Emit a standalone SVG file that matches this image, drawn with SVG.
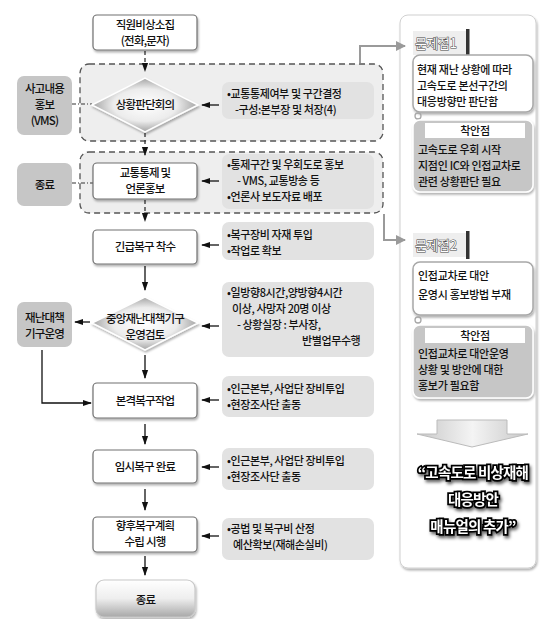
<svg xmlns="http://www.w3.org/2000/svg" width="540" height="619" viewBox="0 0 540 619">
<style>
.t{font-family:"Noto Sans CJK KR","Noto Sans",sans-serif;fill:#111;font-weight:500}
.bt{font-size:11.5px;letter-spacing:-0.8px;text-anchor:middle}
.it{font-size:11px;letter-spacing:-0.4px}
.rt{font-size:11px;letter-spacing:-0.3px}
.box{fill:#fff;stroke:#707070;stroke-width:1.2}
.gbox{fill:#c6c6c6}
.info{fill:#e2e2e2}
.region{fill:#eeeeee;stroke:#555;stroke-width:1.3;stroke-dasharray:6 4}
.conn{stroke:#111;stroke-width:1.3;fill:none}
.dconn{stroke:#333;stroke-width:1.3;fill:none;stroke-dasharray:4 3}
.gconn{stroke:#9a9a9a;stroke-width:2;fill:none}
.lbl{font-size:13px;fill:#fff;stroke:#444;stroke-width:1px;paint-order:stroke;font-family:"Noto Sans CJK KR","Noto Sans",sans-serif;letter-spacing:-0.4px}
.big{font-family:"Noto Sans CJK KR","Noto Sans",sans-serif;font-size:14.5px;font-weight:bold;fill:#fff;stroke:#000;stroke-width:3.5px;paint-order:stroke;text-anchor:middle;letter-spacing:-0.8px}
</style>
<defs>
<marker id="ah" viewBox="0 0 10 10" refX="9" refY="5" markerWidth="7" markerHeight="7" orient="auto"><path d="M0,1.5 L10,5 L0,8.5 Z" fill="#111"/></marker>
<marker id="gah" viewBox="0 0 10 10" refX="9" refY="5" markerWidth="5" markerHeight="5" orient="auto"><path d="M0,0 L10,5 L0,10 Z" fill="#9a9a9a"/></marker>
<filter id="sh" x="-10%" y="-10%" width="130%" height="140%"><feDropShadow dx="1" dy="2" stdDeviation="1.2" flood-color="#000" flood-opacity="0.3"/></filter>
<filter id="tsh" x="-10%" y="-30%" width="130%" height="170%"><feDropShadow dx="1.5" dy="2.5" stdDeviation="1.5" flood-color="#000" flood-opacity="0.6"/></filter>
<radialGradient id="dg" cx="0.5" cy="0.5" r="0.6"><stop offset="0" stop-color="#ffffff"/><stop offset="0.5" stop-color="#ececec"/><stop offset="1" stop-color="#7f7f7f"/></radialGradient>
<linearGradient id="tg" x1="0" y1="0" x2="0" y2="1"><stop offset="0" stop-color="#ffffff"/><stop offset="0.5" stop-color="#eeeeee"/><stop offset="1" stop-color="#a8a8a8"/></linearGradient>
<linearGradient id="ag" x1="0" y1="0" x2="1" y2="0"><stop offset="0" stop-color="#c8c8c8"/><stop offset="0.5" stop-color="#f4f4f4"/><stop offset="1" stop-color="#c8c8c8"/></linearGradient>
</defs>

<g id="panel">
<rect x="400" y="15" width="136" height="553" rx="8" fill="#fff" stroke="#d0d0d0" filter="url(#sh)"/>
</g>

<g id="region1"><rect class="region" x="80" y="64" width="303" height="77" rx="9"/></g>
<g id="region2"><rect class="region" x="80" y="152" width="303" height="61" rx="9"/></g>

<g id="connectors">
<path class="dconn" d="M145,51 V71" marker-end="url(#ah)"/>
<path class="dconn" d="M145,133 V155" marker-end="url(#ah)"/>
<path class="dconn" d="M145,200 V221" marker-end="url(#ah)"/>
<path class="conn" d="M145,266 V290" marker-end="url(#ah)"/>
<path class="conn" d="M145,355 V378" marker-end="url(#ah)"/>
<path class="conn" d="M145,424 V444" marker-end="url(#ah)"/>
<path class="conn" d="M145,489 V510" marker-end="url(#ah)"/>
<path class="conn" d="M145,556 V575" marker-end="url(#ah)"/>
<path class="conn" d="M219,105 H202" marker-end="url(#ah)"/>
<path class="conn" d="M219,181 H202" marker-end="url(#ah)"/>
<path class="conn" d="M219,245 H202" marker-end="url(#ah)"/>
<path class="conn" d="M219,326 H202" marker-end="url(#ah)"/>
<path class="conn" d="M219,400 H202" marker-end="url(#ah)"/>
<path class="conn" d="M219,467 H202" marker-end="url(#ah)"/>
<path class="conn" d="M219,536 H202" marker-end="url(#ah)"/>
<path class="conn" d="M90,322 H75" marker-end="url(#ah)"/>
<path class="conn" d="M42,350 V403 H91" marker-end="url(#ah)"/>
<path d="M72,104 H92" stroke="#333" stroke-width="1.2" stroke-dasharray="4 2 1 2"/>
<path d="M72,183 H93" stroke="#333" stroke-width="1.2" stroke-dasharray="4 2 1 2"/>
<path class="gconn" d="M360,63 V46 H405" marker-end="url(#gah)"/>
<path class="gconn" d="M384,214 V240 H405" marker-end="url(#gah)"/>
</g>

<g id="n-start"><rect class="box" x="93" y="15" width="104" height="35" rx="4" filter="url(#sh)"/>
<text class="t bt" x="145" y="29">직원비상소집</text><text class="t bt" x="145" y="45">(전화,문자)</text></g>

<g id="n-judge"><polygon points="92,105 145,78 198,105 145,132" fill="url(#dg)" stroke="#fff" stroke-width="1.5" filter="url(#sh)"/>
<text class="t bt" x="145" y="109">상황판단회의</text></g>

<g id="n-vms"><rect class="gbox" x="17" y="76" width="55" height="59" rx="7"/>
<text class="t bt" x="44.5" y="93">사고내용</text><text class="t bt" x="44.5" y="109">홍보</text><text class="t bt" x="44.5" y="125">(VMS)</text></g>

<g id="i1"><rect class="info" x="222" y="82" width="152" height="37" rx="7"/>
<text class="t it" x="227" y="98">•교통통제여부 및 구간결정</text><text class="t it" x="235" y="114">-구성:본부장 및 처장(4)</text></g>

<g id="n-ctrl"><rect class="box" x="93" y="163" width="104" height="36" rx="4" filter="url(#sh)"/>
<text class="t bt" x="145" y="177">교통통제 및</text><text class="t bt" x="145" y="193">언론홍보</text></g>

<g id="n-end1"><rect class="gbox" x="17" y="163" width="55" height="43" rx="7"/>
<text class="t bt" x="44.5" y="189">종료</text></g>

<g id="i2"><rect class="info" x="222" y="154" width="152" height="55" rx="7"/>
<text class="t it" x="227" y="169">•통제구간 및 우회도로 홍보</text><text class="t it" x="237" y="185">- VMS, 교통방송 등</text><text class="t it" x="227" y="201">•언론사 보도자료 배포</text></g>

<g id="n-urgent"><rect class="box" x="93" y="230" width="104" height="34" rx="4" filter="url(#sh)"/>
<text class="t bt" x="145" y="251">긴급복구 착수</text></g>

<g id="i3"><rect class="info" x="222" y="222" width="152" height="38" rx="7"/>
<text class="t it" x="227" y="239">•복구장비 자재 투입</text><text class="t it" x="227" y="255">•작업로 확보</text></g>

<g id="n-central"><polygon points="92,323 145,297 198,323 145,350" fill="url(#dg)" stroke="#fff" stroke-width="1.5" filter="url(#sh)"/>
<text class="t bt" x="145" y="323">중앙재난대책기구</text><text class="t bt" x="145" y="339">운영검토</text></g>

<g id="n-org"><rect class="gbox" x="17" y="302" width="55" height="45" rx="7"/>
<text class="t bt" x="44.5" y="322">재난대책</text><text class="t bt" x="44.5" y="338">기구운영</text></g>

<g id="i4"><rect class="info" x="222" y="282" width="152" height="75" rx="7"/>
<text class="t it" x="227" y="297">•일방향8시간,양방향4시간</text><text class="t it" x="232" y="313">이상, 사망자 20명 이상</text><text class="t it" x="237" y="329">- 상황실장 : 부사장,</text><text class="t it" x="302" y="345">반별업무수행</text></g>

<g id="n-main"><rect class="box" x="93" y="383" width="104" height="35" rx="4" filter="url(#sh)"/>
<text class="t bt" x="145" y="405">본격복구작업</text></g>

<g id="i5"><rect class="info" x="222" y="376" width="152" height="41" rx="7"/>
<text class="t it" x="227" y="393">•인근본부, 사업단 장비투입</text><text class="t it" x="227" y="409">•현장조사단 출동</text></g>

<g id="n-temp"><rect class="box" x="93" y="450" width="104" height="33" rx="4" filter="url(#sh)"/>
<text class="t bt" x="145" y="471">임시복구 완료</text></g>

<g id="i6"><rect class="info" x="222" y="448" width="152" height="42" rx="7"/>
<text class="t it" x="227" y="465">•인근본부, 사업단 장비투입</text><text class="t it" x="227" y="481">•현장조사단 출동</text></g>

<g id="n-plan"><rect class="box" x="93" y="517" width="104" height="35" rx="4" filter="url(#sh)"/>
<text class="t bt" x="145" y="530">향후복구계획</text><text class="t bt" x="145" y="546">수립 시행</text></g>

<g id="i7"><rect class="info" x="222" y="518" width="152" height="42" rx="7"/>
<text class="t it" x="227" y="533">•공법 및 복구비 산정</text><text class="t it" x="233" y="549">예산확보(재해손실비)</text></g>

<g id="n-end2"><rect x="96" y="580" width="99" height="37" rx="8" fill="url(#tg)" stroke="#c8c8c8" stroke-width="1.2" filter="url(#sh)"/>
<text class="t bt" x="145.5" y="604">종료</text></g>

<g id="p1-label"><rect x="413" y="31" width="55" height="24" fill="#eeeeee"/><rect x="466" y="29" width="3.5" height="28" fill="#333"/>
<text class="lbl" x="415" y="48">문제점1</text></g>

<g id="p1"><rect x="413" y="55" width="120" height="57" rx="7" fill="#fff" stroke="#a8a8a8" stroke-width="1.5" filter="url(#sh)"/>
<text class="t rt" x="417" y="74">현재 재난 상황에 따라</text><text class="t rt" x="417" y="90">고속도로 본선구간의</text><text class="t rt" x="417" y="106">대응방향만 판단함</text></g>

<g id="link1"><circle cx="418" cy="116" r="3" fill="none" stroke="#a8a8a8" stroke-width="1.3"/></g>

<g id="s1"><rect x="413" y="120" width="120" height="72" rx="7" fill="#c6c6c6" stroke="#fff" stroke-width="1.5" filter="url(#sh)"/>
<rect x="425" y="123" width="100" height="15" fill="#fff"/>
<text class="t rt" x="475" y="135" text-anchor="middle">착안점</text>
<text class="t rt" x="418" y="154">고속도로 우회 시작</text><text class="t rt" x="418" y="170">지점인 IC와 인접교차로</text><text class="t rt" x="418" y="186">관련 상황판단 필요</text></g>

<g id="p2-label"><rect x="413" y="233" width="55" height="24" fill="#eeeeee"/><rect x="466" y="231" width="3.5" height="28" fill="#333"/>
<text class="lbl" x="415" y="250">문제점2</text></g>

<g id="p2"><rect x="413" y="262" width="120" height="53" rx="7" fill="#fff" stroke="#a8a8a8" stroke-width="1.5" filter="url(#sh)"/>
<text class="t rt" x="418" y="280">인접교차로 대안</text><text class="t rt" x="418" y="299">운영시 홍보방법 부재</text></g>

<g id="link2"><circle cx="418" cy="320" r="3" fill="none" stroke="#a8a8a8" stroke-width="1.3"/></g>

<g id="s2"><rect x="413" y="325" width="120" height="73" rx="7" fill="#c6c6c6" stroke="#fff" stroke-width="1.5" filter="url(#sh)"/>
<rect x="425" y="328" width="100" height="15" fill="#fff"/>
<text class="t rt" x="475" y="340" text-anchor="middle">착안점</text>
<text class="t rt" x="418" y="358">인접교차로 대안운영</text><text class="t rt" x="418" y="374">상황 및 방안에 대한</text><text class="t rt" x="418" y="390">홍보가 필요함</text></g>

<g id="bigarrow"><polygon points="437,420 507,420 507,434 528,434 472,447 417,434 437,434" fill="url(#ag)" stroke="#bbb" stroke-width="1"/></g>

<g id="conclusion" filter="url(#tsh)">
<text class="big" x="473" y="478">“고속도로 비상재해</text>
<text class="big" x="473" y="505">대응방안</text>
<text class="big" x="473" y="532">매뉴얼의 추가”</text>
</g>
</svg>
